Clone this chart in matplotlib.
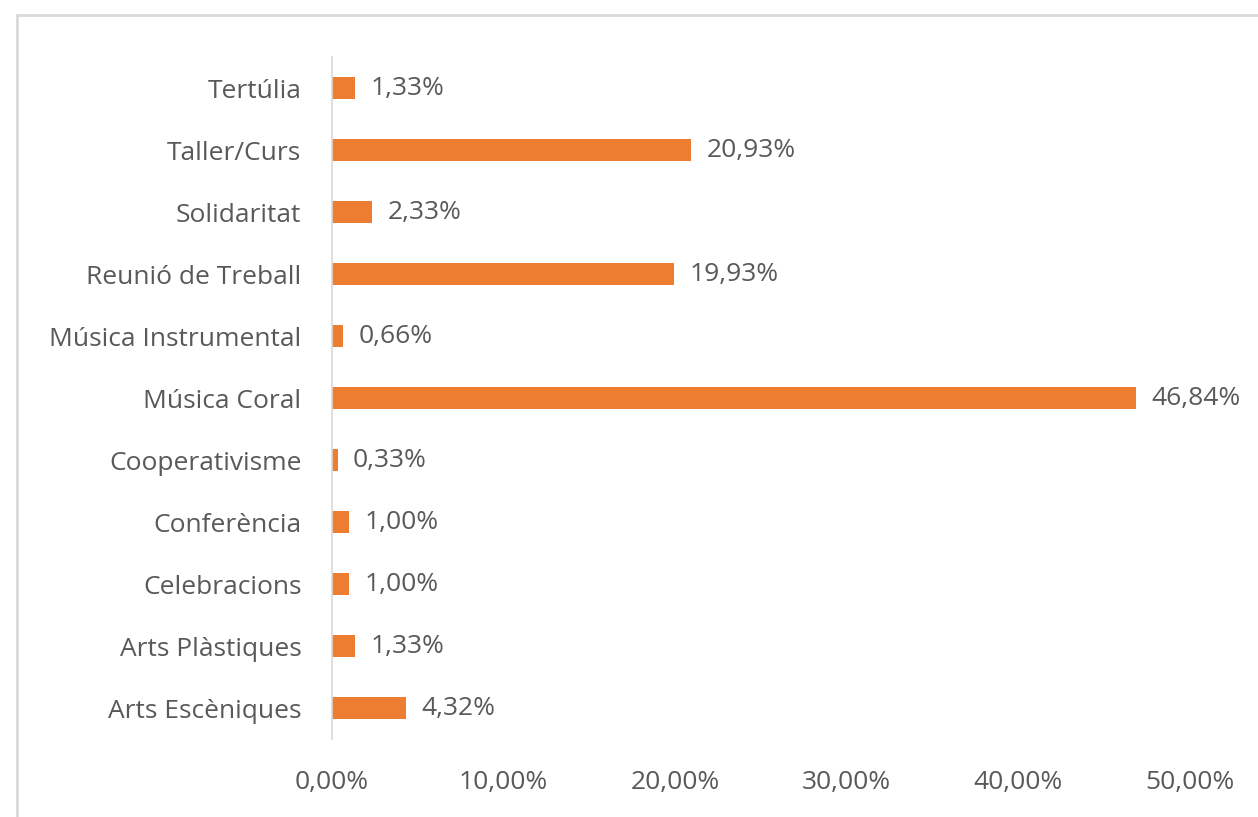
import matplotlib
matplotlib.use("Agg")
import matplotlib.pyplot as plt
from matplotlib.patches import Rectangle

categories = ["Arts Escèniques", "Arts Plàstiques", "Celebracions", "Conferència",
              "Cooperativisme", "Música Coral", "Música Instrumental",
              "Reunió de Treball", "Solidaritat", "Taller/Curs", "Tertúlia"]
values = [4.32, 1.33, 1.00, 1.00, 0.33, 46.84, 0.66, 19.93, 2.33, 20.93, 1.33]
xticks = [0, 10, 20, 30, 40, 50]

plt.rcParams['font.family'] = ['Open Sans', 'DejaVu Sans']
TEXT = '#595959'
BAR = '#ED7D31'
FS = 19

W, H = 1258, 817
fig = plt.figure(figsize=(W/100, H/100), dpi=100)
fig.patch.set_facecolor('white')
# outer chart border
fig.patches.append(Rectangle((17/W, -0.1), 1.2, (817-15)/H + 0.1, transform=fig.transFigure,
                             fill=False, edgecolor='#d9d9d9', linewidth=2))

ax = fig.add_axes([332/W, (817-739)/H, 858/W, 682/H])
ypos = list(range(len(categories)))
ax.barh(ypos, values, height=0.34, color=BAR)
ax.set_xlim(0, 50)
ax.set_ylim(-0.5, len(categories) - 0.5)
ax.set_yticks(ypos)
ax.set_yticklabels(categories)
ax.set_xticks(xticks)
ax.set_xticklabels([f"{v:.2f}%".replace('.', ',') for v in xticks])
ax.tick_params(axis='both', length=0, labelsize=FS, colors=TEXT)
ax.tick_params(axis='y', pad=22)
ax.tick_params(axis='x', pad=22)
for s in ['top', 'right', 'bottom']:
    ax.spines[s].set_visible(False)
ax.spines['left'].set_color('#d9d9d9')
ax.spines['left'].set_linewidth(1.2)

for y, v in zip(ypos, values):
    ax.annotate(f"{v:.2f}%".replace('.', ','), (v, y), xytext=(11, 0),
                textcoords='offset points', va='center', ha='left',
                fontsize=FS, color=TEXT)

fig.savefig('out.png', dpi=100)
